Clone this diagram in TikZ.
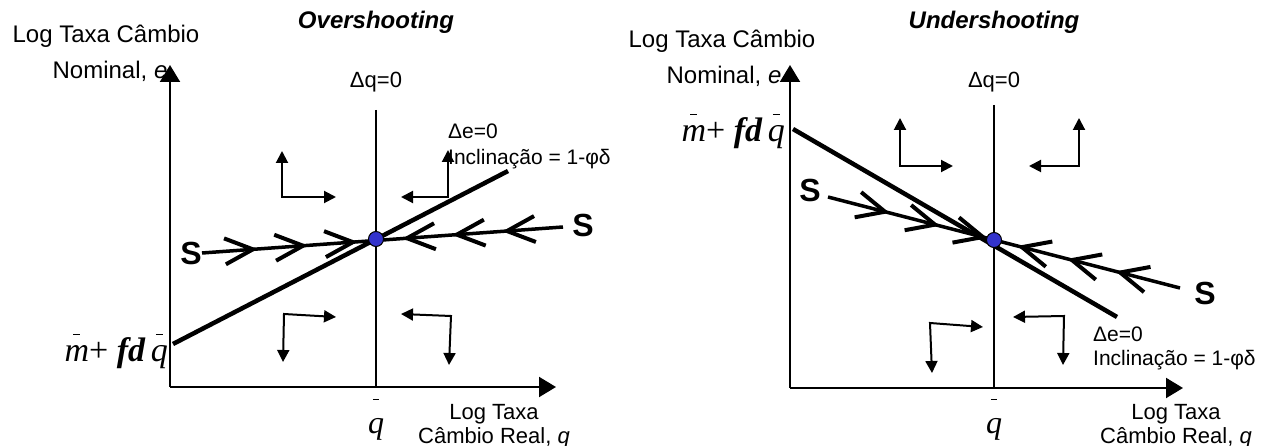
\documentclass[tikz,border=0pt]{standalone}
\usepackage{fontspec}
\setmainfont{Liberation Sans}
\newfontfamily\mathserif{Liberation Serif}
\usetikzlibrary{arrows.meta,decorations.markings,calc}

\definecolor{dotblue}{RGB}{51,51,204}

% letter with a short bar set above it; #1 = gap between bar and letter
\newcommand\barover[2]{\leavevmode\vbox{\offinterlineskip
  \halign{\hfil##\hfil\cr\rule{0.2em}{0.035em}\cr\noalign{\kern#1}#2\cr}}}

% intercept label of the Delta e = 0 line
\newcommand\intercept{{\mathserif\fontsize{34}{34}\selectfont
  \barover{0.33em}{\itshape m}+ {\bfseries\itshape fd}\,\barover{0.33em}{\itshape q}}}

% chevrons drawn along the saddle path
\newcommand\fwdchev{\draw[chev] (-28pt,13pt) -- (0pt,0pt) -- (-28pt,-13pt);}
\newcommand\bwdchev{\draw[chev] (28pt,13pt) -- (0pt,0pt) -- (28pt,-13pt);}

\tikzset{
  axis/.style={line width=2pt,-{Triangle[length=17pt,width=20pt]}},
  qline/.style={line width=2pt},
  eline/.style={line width=4.5pt},
  sline/.style={line width=3.5pt},
  chev/.style={line width=4pt},
  flow/.style={line width=2pt,
    {Triangle[length=12pt,width=12pt]}-{Triangle[length=12pt,width=12pt]}},
  eqdot/.style={circle,fill=dotblue,draw=black,line width=1pt,
    minimum size=15pt,inner sep=0pt},
  dqlab/.style={font=\fontsize{22}{26}\selectfont,inner sep=0pt,anchor=base},
  delab/.style={font=\fontsize{21}{26}\selectfont,inner sep=0pt,anchor=base west},
  xlab/.style={font=\fontsize{22}{25}\selectfont,inner sep=0pt,anchor=base},
  ylab/.style={font=\fontsize{24}{28}\selectfont,inner sep=0pt,anchor=base},
  title/.style={font=\fontsize{24}{28}\selectfont\bfseries\itshape,inner sep=0pt,anchor=base},
  slab/.style={font=\fontsize{32}{32}\selectfont\bfseries,inner sep=0pt},
  qlab/.style={font=\mathserif\fontsize{32}{32}\selectfont\itshape,inner sep=0pt,anchor=base},
}

\begin{document}
\begin{tikzpicture}[x=1pt,y=-1pt]
\useasboundingbox (0,0) rectangle (1270,446);
\fill[white] (0,0) rectangle (1270,446);

% ===================== Overshooting =====================
\coordinate (O1) at (170,387);
\coordinate (Y1) at (170,65);
\coordinate (X1) at (556,387);
\draw[axis] (O1) -- (Y1);
\draw[axis] (O1) -- (X1);

\coordinate (Q1top) at (376,110);
\coordinate (Q1bot) at (376,387);
\draw[qline] (Q1top) -- (Q1bot);

\coordinate (E1a) at (173,344);
\coordinate (E1b) at (508,171);
\draw[eline] (E1a) -- (E1b);

\coordinate (S1a) at (202,253);
\coordinate (S1b) at (563,227);
\draw[sline,postaction={decorate,decoration={markings,
    mark=at position 0.141 with {\fwdchev},
    mark=at position 0.280 with {\fwdchev},
    mark=at position 0.418 with {\fwdchev},
    mark=at position 0.568 with {\bwdchev},
    mark=at position 0.706 with {\bwdchev},
    mark=at position 0.845 with {\bwdchev}}}] (S1a) -- (S1b);

\node[eqdot] (EQ1) at (376,239) {};

% direction of motion in each region
\coordinate (A1c) at (282,197);
\coordinate (A1v) at (282,151);
\coordinate (A1h) at (336,197);
\draw[flow] (A1v) -- (A1c) -- (A1h);
\coordinate (B1c) at (448,197);
\coordinate (B1v) at (448,150);
\coordinate (B1h) at (401,197);
\draw[flow] (B1v) -- (B1c) -- (B1h);
\coordinate (C1c) at (284,314);
\coordinate (C1v) at (283,362);
\coordinate (C1h) at (336,317);
\draw[flow] (C1v) -- (C1c) -- (C1h);
\coordinate (D1c) at (451,316);
\coordinate (D1v) at (449,365);
\coordinate (D1h) at (401,314);
\draw[flow] (D1v) -- (D1c) -- (D1h);

\node[title] (T1) at (376,29) {Overshooting};
\node[ylab] (YL1a) at (106,43) {Log Taxa Câmbio};
\node[ylab] (YL1b) at (110,79) {Nominal, \textit{e}};
\node[dqlab] (DQ1) at (376,88) {Δq=0};
\node[delab] (DE1a) at (448,139) {Δe=0};
\node[delab] (DE1b) at (448,165) {Inclinação = 1-φδ};
\node[anchor=base east,inner sep=0pt] (IC1) at (168,362) {\intercept};
\node[qlab] (QB1) at (376,434) {\barover{0.6em}{q}};
\node[xlab] (XL1a) at (494,420) {Log Taxa};
\node[xlab] (XL1b) at (494,443) {Câmbio Real, \textit{q}};
\node[slab] (SL1) at (191,253) {S};
\node[slab] (SR1) at (583,225) {S};

% ===================== Undershooting =====================
\coordinate (O2) at (790,388);
\coordinate (Y2) at (790,65);
\coordinate (X2) at (1183,388);
\draw[axis] (O2) -- (Y2);
\draw[axis] (O2) -- (X2);

\coordinate (Q2top) at (994,105);
\coordinate (Q2bot) at (994,388);
\draw[qline] (Q2top) -- (Q2bot);

\coordinate (E2a) at (793,129);
\coordinate (E2b) at (1117,317);
\draw[eline] (E2a) -- (E2b);

\coordinate (S2a) at (828,197);
\coordinate (S2b) at (1180,288);
\draw[sline,postaction={decorate,decoration={markings,
    mark=at position 0.162 with {\fwdchev},
    mark=at position 0.304 with {\fwdchev},
    mark=at position 0.440 with {\fwdchev},
    mark=at position 0.551 with {\bwdchev},
    mark=at position 0.693 with {\bwdchev},
    mark=at position 0.830 with {\bwdchev}}}] (S2a) -- (S2b);

\node[eqdot] (EQ2) at (994,240) {};

\coordinate (A2c) at (900,166);
\coordinate (A2v) at (900,118);
\coordinate (A2h) at (953,166);
\draw[flow] (A2v) -- (A2c) -- (A2h);
\coordinate (B2c) at (1079,166);
\coordinate (B2v) at (1079,118);
\coordinate (B2h) at (1029,166);
\draw[flow] (B2v) -- (B2c) -- (B2h);
\coordinate (C2c) at (930,323);
\coordinate (C2v) at (932,373);
\coordinate (C2h) at (983,327);
\draw[flow] (C2v) -- (C2c) -- (C2h);
\coordinate (D2c) at (1064,316);
\coordinate (D2v) at (1063,365);
\coordinate (D2h) at (1013,317);
\draw[flow] (D2v) -- (D2c) -- (D2h);

\node[title] (T2) at (994,29) {Undershooting};
\node[ylab] (YL2a) at (722,48) {Log Taxa Câmbio};
\node[ylab] (YL2b) at (724,84) {Nominal, \textit{e}};
\node[dqlab] (DQ2) at (994,88) {Δq=0};
\node[delab] (DE2a) at (1093,342) {Δe=0};
\node[delab] (DE2b) at (1093,366) {Inclinação = 1-φδ};
\node[anchor=base east,inner sep=0pt] (IC2) at (785,142) {\intercept};
\node[qlab] (QB2) at (994,434) {\barover{0.6em}{q}};
\node[xlab] (XL2a) at (1176,420) {Log Taxa};
\node[xlab] (XL2b) at (1176,443) {Câmbio Real, \textit{q}};
\node[slab] (SL2) at (810,190) {S};
\node[slab] (SR2) at (1205,293) {S};
\end{tikzpicture}
\end{document}
